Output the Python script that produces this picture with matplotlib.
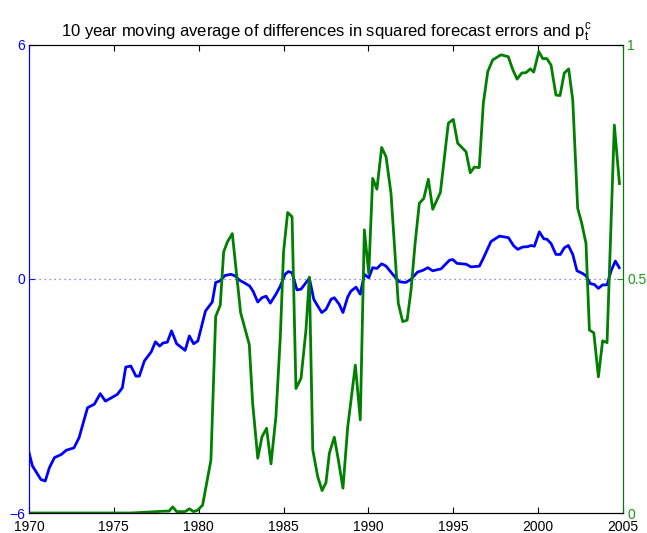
import matplotlib
matplotlib.use("Agg")
import matplotlib.pyplot as plt

plt.rcParams['font.family'] = ['Liberation Sans', 'DejaVu Sans']
plt.rcParams['mathtext.fontset'] = 'custom'
plt.rcParams['mathtext.rm'] = 'Liberation Sans'
plt.rcParams['mathtext.it'] = 'Liberation Sans'
plt.rcParams['mathtext.default'] = 'regular'

# 10 year moving average of differences in squared forecast errors (left axis)
diff_years = [1970.0, 1970.2, 1970.7, 1970.96, 1971.2, 1971.5, 1971.9, 1972.2, 1972.65, 1972.95,
              1973.45, 1973.85, 1974.2, 1974.5, 1974.8, 1975.2, 1975.5, 1975.7, 1976.0, 1976.3,
              1976.5, 1976.8, 1977.2, 1977.45, 1977.7, 1977.9, 1978.15, 1978.4, 1978.7, 1979.2,
              1979.45, 1979.7, 1979.95, 1980.4, 1980.8, 1981.0, 1981.25, 1981.55, 1981.9, 1982.15,
              1982.4, 1982.7, 1983.0, 1983.2, 1983.48, 1983.73, 1983.97, 1984.22, 1984.55, 1984.81,
              1985.09, 1985.28, 1985.5, 1985.79, 1986.03, 1986.52, 1986.78, 1987.01, 1987.25, 1987.5,
              1987.8, 1987.99, 1988.28, 1988.5, 1988.78, 1988.97, 1989.27, 1989.52, 1989.76, 1990.02,
              1990.25, 1990.5, 1990.78, 1991.04, 1991.43, 1991.82, 1992.2, 1992.5, 1992.9, 1993.2,
              1993.5, 1993.79, 1994.28, 1994.77, 1994.97, 1995.22, 1995.75, 1996.05, 1996.54, 1996.79,
              1997.22, 1997.72, 1998.25, 1998.56, 1998.8, 1999.09, 1999.39, 1999.58, 1999.78, 2000.07,
              2000.33, 2000.52, 2000.76, 2001.05, 2001.31, 2001.54, 2001.78, 2002.04, 2002.29, 2002.63,
              2002.82, 2003.08, 2003.31, 2003.55, 2003.8, 2004.06, 2004.3, 2004.55, 2004.78]
diff_vals = [-4.45, -4.79, -5.14, -5.18, -4.84, -4.58, -4.50, -4.39, -4.33, -4.07,
             -3.30, -3.21, -2.94, -3.13, -3.06, -2.96, -2.79, -2.26, -2.23, -2.49,
             -2.49, -2.10, -1.87, -1.61, -1.72, -1.64, -1.62, -1.33, -1.66, -1.83,
             -1.46, -1.66, -1.59, -0.82, -0.59, -0.09, -0.05, 0.09, 0.12, 0.08,
             -0.03, -0.10, -0.18, -0.31, -0.59, -0.48, -0.44, -0.62, -0.39, -0.18,
             0.12, 0.19, 0.16, -0.28, -0.26, 0.02, -0.52, -0.69, -0.86, -0.78,
             -0.52, -0.48, -0.65, -0.86, -0.46, -0.31, -0.21, -0.39, 0.12, 0.03,
             0.29, 0.27, 0.39, 0.33, 0.12, -0.07, -0.09, -0.01, 0.18, 0.22,
             0.29, 0.21, 0.26, 0.48, 0.50, 0.40, 0.38, 0.31, 0.33, 0.55,
             0.96, 1.10, 1.06, 0.85, 0.76, 0.82, 0.83, 0.86, 0.84, 1.21,
             1.03, 1.02, 0.91, 0.63, 0.63, 0.80, 0.86, 0.63, 0.21, 0.14,
             0.08, -0.12, -0.14, -0.24, -0.15, -0.15, 0.21, 0.46, 0.29]

# p_t^c (right axis)
p_years = [1970.0, 1976.0, 1977.5, 1978.0, 1978.25, 1978.47, 1978.7, 1979.2, 1979.45, 1979.7,
           1979.94, 1980.23, 1980.72, 1981.0, 1981.27, 1981.47, 1981.7, 1981.98, 1982.47, 1982.98,
           1983.18, 1983.48, 1983.73, 1984.0, 1984.26, 1984.55, 1984.81, 1985.0, 1985.24, 1985.5,
           1985.73, 1986.03, 1986.32, 1986.52, 1986.72, 1987.01, 1987.27, 1987.5, 1987.7, 1987.99,
           1988.23, 1988.5, 1988.78, 1989.23, 1989.52, 1989.76, 1990.02, 1990.25, 1990.5, 1990.78,
           1991.04, 1991.33, 1991.76, 1992.02, 1992.28, 1992.51, 1992.75, 1993.0, 1993.26, 1993.53,
           1993.79, 1994.24, 1994.71, 1995.0, 1995.26, 1995.75, 1996.0, 1996.24, 1996.53, 1996.77,
           1997.03, 1997.32, 1997.81, 1998.24, 1998.5, 1998.76, 1999.03, 1999.29, 1999.54, 1999.74,
           2000.04, 2000.27, 2000.51, 2000.76, 2001.05, 2001.29, 2001.54, 2001.8, 2002.04, 2002.33,
           2002.57, 2002.82, 2003.02, 2003.28, 2003.55, 2003.8, 2004.06, 2004.49, 2004.79]
p_vals = [0.0, 0.0, 0.003, 0.004, 0.004, 0.013, 0.003, 0.003, 0.009, 0.003,
          0.006, 0.017, 0.113, 0.42, 0.444, 0.558, 0.58, 0.597, 0.428, 0.36,
          0.234, 0.117, 0.163, 0.181, 0.105, 0.206, 0.377, 0.558, 0.642, 0.633,
          0.266, 0.288, 0.391, 0.504, 0.135, 0.078, 0.048, 0.065, 0.128, 0.162,
          0.113, 0.053, 0.184, 0.316, 0.199, 0.605, 0.512, 0.715, 0.692, 0.781,
          0.761, 0.683, 0.448, 0.409, 0.412, 0.476, 0.576, 0.662, 0.672, 0.713,
          0.649, 0.685, 0.833, 0.841, 0.79, 0.772, 0.727, 0.739, 0.738, 0.875,
          0.943, 0.968, 0.979, 0.975, 0.948, 0.927, 0.94, 0.941, 0.949, 0.942,
          0.986, 0.971, 0.971, 0.957, 0.893, 0.892, 0.94, 0.949, 0.882, 0.651,
          0.619, 0.576, 0.391, 0.385, 0.291, 0.368, 0.364, 0.829, 0.704]

green = (0, 0.5, 0)

fig = plt.figure(figsize=(6.47, 5.33), dpi=100)
ax = fig.add_axes([0.0448, 0.0375, 0.9181, 0.8781])
ax2 = ax.twinx()

ax.axhline(0, color=(0.4, 0.4, 1), linestyle=(0, (1, 3)), linewidth=0.9)
ax.plot(diff_years, diff_vals, color='blue', linewidth=2.0)
ax2.plot(p_years, p_vals, color=green, linewidth=2.0)

ax.set_xlim(1970, 2005)
ax.set_ylim(-6, 6)
ax2.set_ylim(0, 1)
ax.set_xticks([1970, 1975, 1980, 1985, 1990, 1995, 2000, 2005])
ax.set_yticks([-6, 0, 6])
ax2.set_yticks([0, 0.5, 1])
ax2.set_yticklabels(['0', '0.5', '1'])

ax.tick_params(axis='x', direction='in', top=True, length=4, labelsize=10, pad=5)
ax.tick_params(axis='y', direction='in', length=4, colors='blue', labelsize=10, pad=3)
ax2.tick_params(axis='y', direction='in', length=4, colors=(0.1, 0.6, 0.1), labelsize=10, pad=3)
ax.spines['left'].set_color('blue')
ax2.spines['left'].set_color('blue')
ax2.spines['right'].set_color(green)

ax.set_title('10 year moving average of differences in squared forecast errors and $p_t^c$',
             fontsize=12, pad=6)

plt.savefig("out.png", dpi=100)
